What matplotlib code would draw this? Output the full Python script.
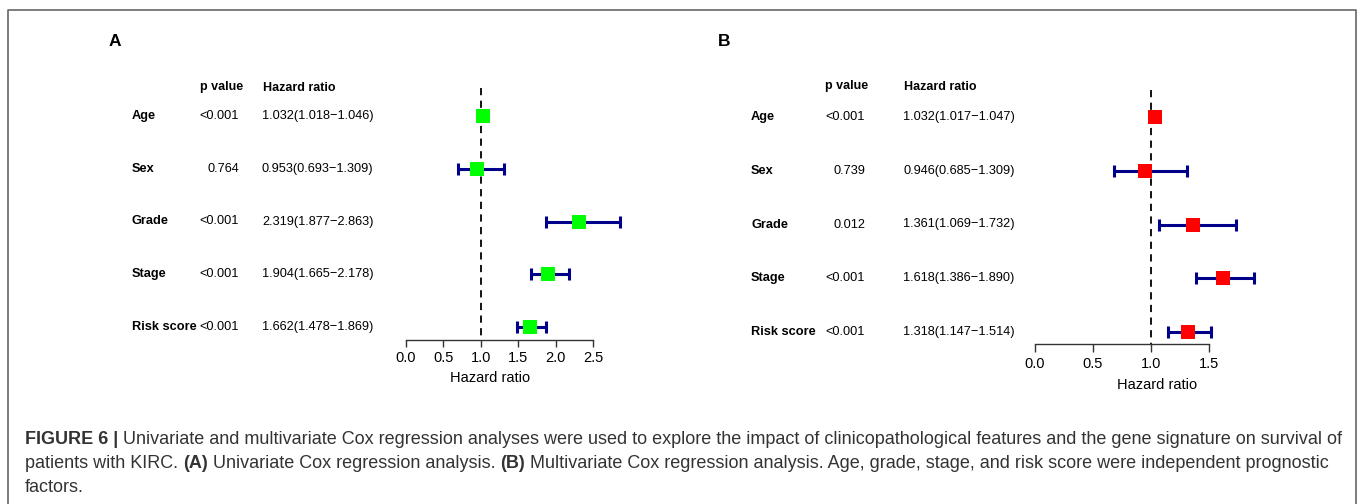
import numpy as np
import matplotlib
matplotlib.use("Agg")
import matplotlib.pyplot as plt
from matplotlib import transforms
from matplotlib.lines import Line2D

plt.rcParams['font.family'] = ['Liberation Sans', 'DejaVu Sans']

W, H = 1360, 504
CAP_FS = 12.95

################ data ################
variables = ["Age", "Sex", "Grade", "Stage", "Risk score"]

# A: univariate Cox
hr_a = [1.032, 0.953, 2.319, 1.904, 1.662]
lo_a = [1.018, 0.693, 1.877, 1.665, 1.478]
hi_a = [1.046, 1.309, 2.863, 2.178, 1.869]
p_a = ["<0.001", "0.764", "<0.001", "<0.001", "<0.001"]
ticks_a = [0.0, 0.5, 1.0, 1.5, 2.0, 2.5]

# B: multivariate Cox
hr_b = [1.032, 0.946, 1.361, 1.618, 1.318]
lo_b = [1.017, 0.685, 1.069, 1.386, 1.147]
hi_b = [1.047, 1.309, 1.732, 1.890, 1.514]
p_b = ["<0.001", "0.739", "0.012", "<0.001", "<0.001"]
ticks_b = [0.0, 0.5, 1.0, 1.5]

caption = [
    [("FIGURE 6 |", "bold"),
     (" Univariate and multivariate Cox regression analyses were used to explore the impact of "
      "clinicopathological features and the gene signature on survival of", "normal")],
    [("patients with KIRC. ", "normal"), ("(A)", "bold"),
     (" Univariate Cox regression analysis. ", "normal"), ("(B)", "bold"),
     (" Multivariate Cox regression analysis. Age, grade, stage, and risk score were independent "
      "prognostic", "normal")],
    [("factors.", "normal")],
]
#######################################

fig = plt.figure(figsize=(W / 100, H / 100), dpi=100)


def fx(px):
    return px / W


def fy(py):
    return 1 - py / H


def panel(letter, hr, lo, hi, pv, ticks, color, g):
    # g holds the pixel layout of the panel
    x0, ppu = g["x0"], g["ppu"]
    r0, step = g["row0"], g["step"]
    left, right, top, bottom = g["box"]
    ax = fig.add_axes([fx(left), fy(bottom), (right - left) / W, (bottom - top) / H])
    ax.set_xlim((left - x0) / ppu, (right - x0) / ppu)
    ax.set_ylim((bottom - r0) / step, (top - r0) / step)
    ax.patch.set_alpha(0)

    rows = np.arange(len(hr))
    hr = np.array(hr); lo = np.array(lo); hi = np.array(hi)

    ax.vlines(1.0, (g["dash_top"] - r0) / step, (bottom - r0) / step,
              colors="black", linestyles=(0, (4, 3)), lw=1.3, zorder=1)
    ax.errorbar(hr, rows, xerr=[hr - lo, hi - hr], fmt="none", ecolor="#00008B",
                elinewidth=2.2, capsize=4.3, capthick=2.2, zorder=2)
    ax.plot(hr, rows, "s", color=color, markersize=g["ms"], markeredgewidth=0, zorder=3)

    for s in ["left", "top", "right"]:
        ax.spines[s].set_visible(False)
    ax.spines["bottom"].set_bounds(ticks[0], ticks[-1])
    ax.spines["bottom"].set_color("#333333")
    ax.spines["bottom"].set_linewidth(1.0)
    ax.set_yticks([])
    ax.set_xticks(ticks)
    ax.set_xticklabels([f"{t:.1f}" for t in ticks])
    ax.tick_params(axis="x", length=g["tl"], width=1.0, color="#333333", labelsize=10.5, pad=3)

    tr = transforms.blended_transform_factory(fig.transFigure, ax.transData)
    for i, name in enumerate(variables):
        ax.text(fx(g["lab_x"]), i, name, transform=tr, fontsize=9.2, fontweight="bold",
                ha="left", va="center")
        ax.text(fx(g["p_x"]), i, pv[i], transform=tr, fontsize=9.2, ha="right", va="center")
        ax.text(fx(g["hr_x"]), i, f"{hr[i]:.3f}({lo[i]:.3f}\u2212{hi[i]:.3f})",
                transform=tr, fontsize=9.2, ha="left", va="center")

    fig.text(fx(g["ph_x"]), fy(g["head_y"]), "p value", fontsize=9, fontweight="bold",
             ha="left", va="center")
    fig.text(fx(g["hr_x"] + 1), fy(g["head_y"] + 1), "Hazard ratio", fontsize=9,
             fontweight="bold", ha="left", va="center")
    fig.text(fx(g["letter"][0]), fy(g["letter"][1]), letter, fontsize=12.5,
             fontweight="bold", ha="left", va="center")
    fig.text(fx(g["xlab"][0]), fy(g["xlab"][1]), "Hazard ratio", fontsize=10.5,
             ha="center", va="center")


panel("A", hr_a, lo_a, hi_a, p_a, ticks_a, "#00FF00",
      dict(x0=406, ppu=74.8, row0=116, step=52.75, box=(380, 640, 80, 340),
           dash_top=88, ms=10, tl=5, lab_x=132, p_x=239, hr_x=262, ph_x=200,
           head_y=87, letter=(109, 42), xlab=(490, 378)))

panel("B", hr_b, lo_b, hi_b, p_b, ticks_b, "#FF0000",
      dict(x0=1035, ppu=116, row0=117, step=53.75, box=(1000, 1300, 80, 344),
           dash_top=90, ms=10.5, tl=6, lab_x=751, p_x=865, hr_x=903, ph_x=825,
           head_y=86, letter=(718, 42), xlab=(1157, 385)))

# frame round the figure panels
fig.add_artist(Line2D([fx(8), fx(8), fx(1356), fx(1356)], [fy(506), fy(10), fy(10), fy(506)],
                      color="#666666", lw=1.2, transform=fig.transFigure))

# caption with bold pieces
renderer = fig.canvas.get_renderer()


def seg_width(s, weight):
    a = fig.text(0, 0, "|" + s + "|", fontsize=CAP_FS, fontweight=weight)
    b = fig.text(0, 0, "||", fontsize=CAP_FS, fontweight=weight)
    w = a.get_window_extent(renderer).width - b.get_window_extent(renderer).width
    a.remove(); b.remove()
    return w


for k, line in enumerate(caption):
    x = 25
    y = 440 + 23.5 * k
    for txt, weight in line:
        fig.text(fx(x), fy(y), txt, fontsize=CAP_FS, fontweight=weight, color="#333333",
                 ha="left", va="center")
        x += seg_width(txt, weight)

fig.savefig("out.png", dpi=100)
